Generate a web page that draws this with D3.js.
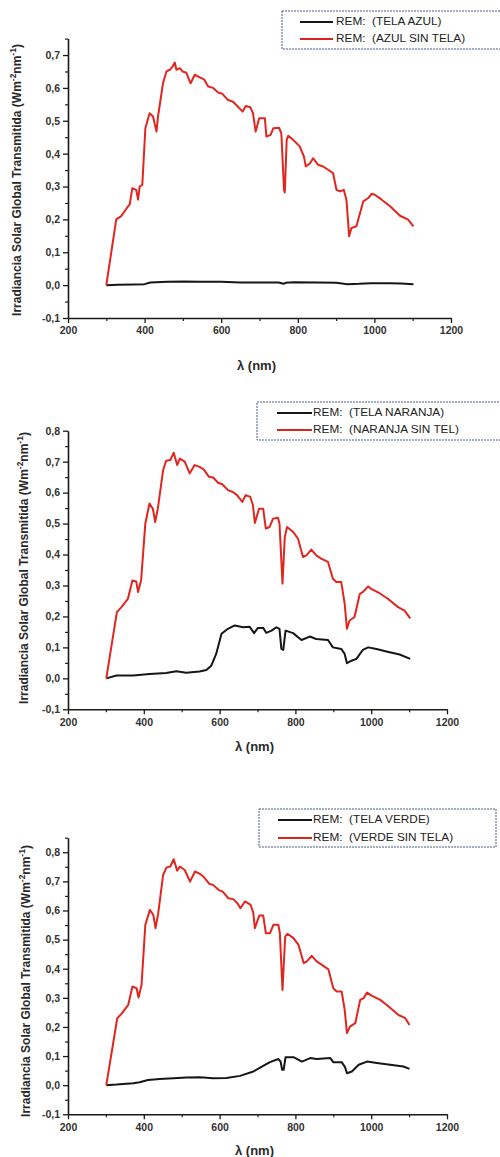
<!DOCTYPE html>
<html><head><meta charset="utf-8">
<script src="https://cdn.jsdelivr.net/npm/d3@7"></script>
<style>
html,body{margin:0;padding:0;background:#fff;}
svg{display:block;}
</style></head>
<body>
<svg id="c" width="500" height="1157"></svg>
<script>
// ---------- DATA ----------
const xTicks = [200, 400, 600, 800, 1000, 1200];
const legendAzul = ["REM:  (TELA AZUL)", "REM:  (AZUL SIN TELA)"];
const legendNaranja = ["REM:  (TELA NARANJA)", "REM:  (NARANJA SIN TEL)"];
const legendVerde = ["REM:  (TELA VERDE)", "REM:  (VERDE SIN TELA)"];
const yTicksAzul = [-0.1, 0, 0.1, 0.2, 0.3, 0.4, 0.5, 0.6, 0.7];
const yTicksNaranja = [-0.1, 0, 0.1, 0.2, 0.3, 0.4, 0.5, 0.6, 0.7, 0.8];
const yTicksVerde = [-0.1, 0, 0.1, 0.2, 0.3, 0.4, 0.5, 0.6, 0.7, 0.8];

const azulSinTela = [[300,0],[326,0.20],[339,0.21],[357,0.24],[361,0.245],[368,0.295],[378,0.29],[383,0.26],[387,0.30],[394,0.305],[402,0.477],[413,0.523],[422,0.513],[431,0.467],[435,0.513],[448,0.614],[457,0.65],[467,0.656],[473,0.665],[479,0.677],[483,0.655],[492,0.66],[499,0.65],[509,0.646],[520,0.614],[531,0.64],[544,0.632],[555,0.626],[566,0.604],[579,0.6],[592,0.586],[603,0.582],[618,0.563],[631,0.558],[642,0.545],[656,0.528],[664,0.545],[676,0.541],[683,0.523],[690,0.467],[699,0.508],[714,0.508],[718,0.452],[729,0.457],[736,0.477],[751,0.479],[757,0.462],[764,0.29],[766,0.282],[771,0.442],[775,0.454],[788,0.442],[805,0.422],[816,0.391],[821,0.361],[832,0.371],[840,0.386],[853,0.366],[866,0.361],[879,0.351],[892,0.341],[901,0.29],[910,0.285],[920,0.29],[927,0.26],[934,0.149],[940,0.174],[953,0.179],[971,0.255],[984,0.265],[993,0.278],[1001,0.275],[1019,0.26],[1041,0.24],[1067,0.211],[1088,0.199],[1102,0.179]];
const telaAzul = [[300,0],[330,0.001],[372,0.002],[400,0.003],[415,0.008],[459,0.010],[503,0.011],[547,0.010],[600,0.010],[650,0.008],[700,0.008],[750,0.008],[763,0.004],[768,0.007],[790,0.009],[850,0.008],[900,0.007],[930,0.003],[960,0.004],[990,0.006],[1040,0.006],[1070,0.005],[1102,0.003]];

const naranjaSinTela = [[301,0],[329,0.214],[341,0.23],[358,0.257],[370,0.316],[380,0.313],[385,0.279],[393,0.318],[404,0.5],[415,0.565],[424,0.548],[430,0.505],[437,0.548],[451,0.673],[459,0.703],[470,0.705],[479,0.729],[488,0.689],[495,0.71],[508,0.7],[521,0.662],[534,0.689],[547,0.683],[558,0.675],[572,0.651],[583,0.649],[596,0.632],[607,0.627],[622,0.608],[635,0.602],[646,0.592],[660,0.57],[669,0.592],[681,0.586],[688,0.559],[693,0.502],[704,0.548],[715,0.548],[722,0.484],[732,0.489],[741,0.516],[754,0.519],[758,0.5],[766,0.306],[772,0.457],[778,0.489],[794,0.473],[807,0.451],[820,0.392],[829,0.397],[842,0.416],[855,0.397],[868,0.387],[886,0.376],[899,0.322],[908,0.311],[921,0.311],[930,0.241],[936,0.16],[943,0.187],[956,0.198],[970,0.273],[978,0.279],[992,0.297],[1000,0.289],[1022,0.275],[1044,0.257],[1071,0.23],[1088,0.219],[1103,0.194]];
const telaNaranja = [[301,0],[328,0.009],[372,0.009],[415,0.014],[459,0.017],[486,0.023],[512,0.018],[547,0.022],[565,0.027],[578,0.041],[591,0.079],[605,0.144],[622,0.16],[640,0.171],[662,0.165],[679,0.167],[691,0.146],[701,0.163],[715,0.163],[723,0.147],[737,0.154],[750,0.165],[758,0.16],[763,0.095],[768,0.092],[774,0.154],[794,0.146],[816,0.124],[838,0.135],[855,0.127],[886,0.124],[899,0.1],[921,0.095],[930,0.079],[936,0.049],[948,0.057],[961,0.063],[978,0.092],[992,0.1],[1014,0.095],[1040,0.087],[1075,0.077],[1103,0.063]];

const verdeSinTela = [[301,0],[330,0.23],[341,0.245],[359,0.276],[370,0.339],[381,0.333],[386,0.301],[394,0.344],[404,0.55],[416,0.602],[425,0.585],[431,0.539],[438,0.59],[451,0.722],[460,0.748],[470,0.751],[479,0.776],[488,0.737],[495,0.751],[508,0.739],[522,0.699],[535,0.734],[548,0.726],[559,0.714],[573,0.691],[583,0.688],[597,0.671],[608,0.665],[623,0.642],[636,0.639],[647,0.625],[655,0.608],[667,0.631],[682,0.619],[689,0.591],[693,0.539],[705,0.583],[715,0.583],[722,0.522],[733,0.522],[742,0.551],[755,0.551],[759,0.522],[766,0.327],[773,0.51],[779,0.52],[795,0.505],[808,0.482],[822,0.419],[830,0.425],[843,0.444],[856,0.425],[870,0.413],[887,0.398],[900,0.333],[909,0.322],[922,0.322],[930,0.259],[936,0.179],[944,0.201],[958,0.213],[971,0.293],[980,0.299],[989,0.318],[1002,0.307],[1024,0.293],[1046,0.27],[1072,0.241],[1090,0.23],[1101,0.207]];
const telaVerde = [[301,0],[328,0.002],[372,0.007],[389,0.01],[411,0.018],[442,0.021],[478,0.024],[513,0.026],[548,0.027],[583,0.024],[618,0.025],[654,0.032],[689,0.047],[715,0.066],[733,0.079],[755,0.09],[761,0.081],[765,0.053],[769,0.053],[774,0.096],[795,0.096],[817,0.081],[839,0.093],[856,0.09],[892,0.093],[900,0.079],[922,0.079],[931,0.062],[936,0.041],[949,0.047],[967,0.07],[989,0.081],[1015,0.076],[1050,0.07],[1085,0.064],[1101,0.056]];

// ---------- LAYOUT ----------
const panels = [
  {black: telaAzul, red: azulSinTela, legend: legendAzul, yTicks: yTicksAzul, yMax: 0.75,
   x0: 68, x1: 451, yBot: 318, yTop: 38.6, yLabX: 18, yLabY: 180, xTitleY: 370,
   leg: {x: 282, y: 11, w: 230, h: 38, s0: 300, s1: 333, tx: 336, r1: 22, r2: 39}},
  {black: telaNaranja, red: naranjaSinTela, legend: legendNaranja, yTicks: yTicksNaranja, yMax: 0.8,
   x0: 68, x1: 447, yBot: 709.3, yTop: 430.7, yLabX: 25, yLabY: 568, xTitleY: 751,
   leg: {x: 257, y: 402, w: 250, h: 38, s0: 277, s1: 312, tx: 313, r1: 413, r2: 430}},
  {black: telaVerde, red: verdeSinTela, legend: legendVerde, yTicks: yTicksVerde, yMax: 0.85,
   x0: 68, x1: 447, yBot: 1114.3, yTop: 837.7, yLabX: 27, yLabY: 981, xTitleY: 1155,
   leg: {x: 259, y: 809, w: 237, h: 38, s0: 278, s1: 312, tx: 313, r1: 820, r2: 838}}
];

const svg = d3.select("#c");
const fmt = v => d3.format(".1f")(v).replace(".", ",").replace("−", "-");
const FONT = "Liberation Sans, Arial, sans-serif";

panels.forEach(p => {
  const x = d3.scaleLinear().domain([200, 1200]).range([p.x0, p.x1]);
  const y = d3.scaleLinear().domain([-0.1, p.yMax]).range([p.yBot, p.yTop]);
  const g = svg.append("g");

  // minor ticks
  const xMinor = d3.range(300, 1200, 200);
  g.append("g").attr("transform", `translate(0,${p.yBot})`)
    .call(d3.axisBottom(x).tickValues(xMinor).tickSize(3).tickFormat(""))
    .call(a => a.select(".domain").remove())
    .selectAll("line").attr("stroke", "#222").attr("stroke-width", 1.2);
  const yMinor = d3.range(-0.05, p.yMax + 0.001, 0.1);
  g.append("g").attr("transform", `translate(${p.x0},0)`)
    .call(d3.axisLeft(y).tickValues(yMinor).tickSize(3).tickFormat(""))
    .call(a => a.select(".domain").remove())
    .selectAll("line").attr("stroke", "#222").attr("stroke-width", 1.2);

  // major axes
  const xa = g.append("g").attr("transform", `translate(0,${p.yBot})`)
    .call(d3.axisBottom(x).tickValues(xTicks).tickSize(5).tickSizeOuter(0).tickPadding(4).tickFormat(d3.format("d")));
  const ya = g.append("g").attr("transform", `translate(${p.x0},0)`)
    .call(d3.axisLeft(y).tickValues(p.yTicks).tickSize(5).tickSizeOuter(0).tickPadding(3).tickFormat(fmt));
  [xa, ya].forEach(a => {
    a.select(".domain").attr("stroke", "#1a1a1a").attr("stroke-width", 1.6);
    a.selectAll(".tick line").attr("stroke", "#1a1a1a").attr("stroke-width", 1.3);
    a.selectAll("text").attr("fill", "#333").attr("font-family", FONT)
      .attr("font-size", 10.5).attr("font-weight", "bold");
  });

  // lines
  const line = d3.line().x(d => x(d[0])).y(d => y(d[1]));
  g.append("path").datum(p.black).attr("d", line).attr("fill", "none")
    .attr("stroke", "#161616").attr("stroke-width", 2).attr("stroke-linejoin", "round");
  g.append("path").datum(p.red).attr("d", line).attr("fill", "none")
    .attr("stroke", "#e0261f").attr("stroke-width", 2).attr("stroke-linejoin", "round");

  // axis titles
  const yl = g.append("text").attr("transform", `translate(${p.yLabX},${p.yLabY}) rotate(-90)`)
    .attr("text-anchor", "middle").attr("dominant-baseline", "middle")
    .attr("font-family", FONT).attr("font-size", 12).attr("font-weight", "bold").attr("fill", "#2a2a2a");
  yl.append("tspan").text("Irradiancia Solar Global Transmitida (Wm");
  yl.append("tspan").attr("dy", -4).attr("font-size", 8.5).text("-2");
  yl.append("tspan").attr("dy", 4).text("nm");
  yl.append("tspan").attr("dy", -4).attr("font-size", 8.5).text("-1");
  yl.append("tspan").attr("dy", 4).text(")");

  g.append("text").attr("x", (p.x0 + p.x1) / 2 - 3).attr("y", p.xTitleY)
    .attr("text-anchor", "middle").attr("font-family", FONT).attr("font-size", 13)
    .attr("font-weight", "bold").attr("fill", "#2a2a2a").text("λ (nm)");

  // legend
  const L = p.leg;
  g.append("rect").attr("x", L.x).attr("y", L.y).attr("width", L.w).attr("height", L.h)
    .attr("fill", "#fff").attr("stroke", "#4a5a86").attr("stroke-width", 1)
    .attr("stroke-dasharray", "2,1");
  const rows = [{c: "#161616", y: L.r1, t: p.legend[0]}, {c: "#d8241c", y: L.r2, t: p.legend[1]}];
  rows.forEach(r => {
    g.append("line").attr("x1", L.s0).attr("x2", L.s1).attr("y1", r.y).attr("y2", r.y)
      .attr("stroke", r.c).attr("stroke-width", 2.2);
    g.append("text").attr("x", L.tx).attr("y", r.y).attr("dominant-baseline", "middle")
      .style("white-space", "pre")
      .attr("font-family", FONT).attr("font-size", 11.8).attr("fill", "#222").text(r.t);
  });
});
</script>
</body></html>
